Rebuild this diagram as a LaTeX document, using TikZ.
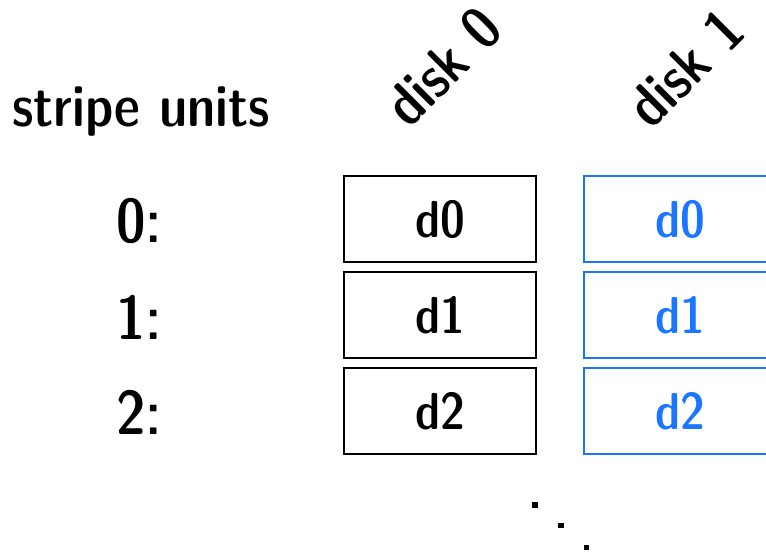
\documentclass[tikz,border=0pt]{standalone}
\definecolor{diskblue}{RGB}{26,117,255}
\tikzset{
  lbl/.style={font=\fontsize{#1}{#1}\fontseries{sbc}\sffamily, inner sep=0pt},
  unit/.style={draw=black, line width=1.2pt, minimum width=192pt, minimum height=86pt,
    inner sep=0pt, font=\fontsize{52}{52}\fontseries{sbc}\sffamily},
  mirror/.style={unit, draw=diskblue, text=diskblue},
  dotmark/.style={fill=black, inner sep=0pt, minimum size=5.5pt}
}
\begin{document}
\begin{tikzpicture}[x=1pt,y=1pt]
\useasboundingbox (0,0) rectangle (766,554);
% heading and column titles
\node[lbl=58.5, anchor=base] (hdr) at (141,427) {stripe units};
\node[lbl=59, rotate=45, anchor=center] (disk0) at (443,487) {disk 0};
\node[lbl=59, rotate=45, anchor=center] (disk1) at (685,486) {disk 1};
% row indices
\node[lbl=62] (r0) at (139,333) {0:};
\node[lbl=62] (r1) at (139,237) {1:};
\node[lbl=62] (r2) at (139,142) {2:};
% disk 0 units
\node[unit] (a0) at (440,335) {d0};
\node[unit] (a1) at (440,239) {d1};
\node[unit] (a2) at (440,143) {d2};
% disk 1 units (mirror copy)
\node[mirror] (b0) at (680,335) {d0};
\node[mirror] (b1) at (680,239) {d1};
\node[mirror] (b2) at (680,143) {d2};
% continuation dots
\node[dotmark] (e1) at (535,49) {};
\node[dotmark] (e2) at (561,28.5) {};
\node[dotmark] (e3) at (586.5,6.5) {};
\end{tikzpicture}
\end{document}
